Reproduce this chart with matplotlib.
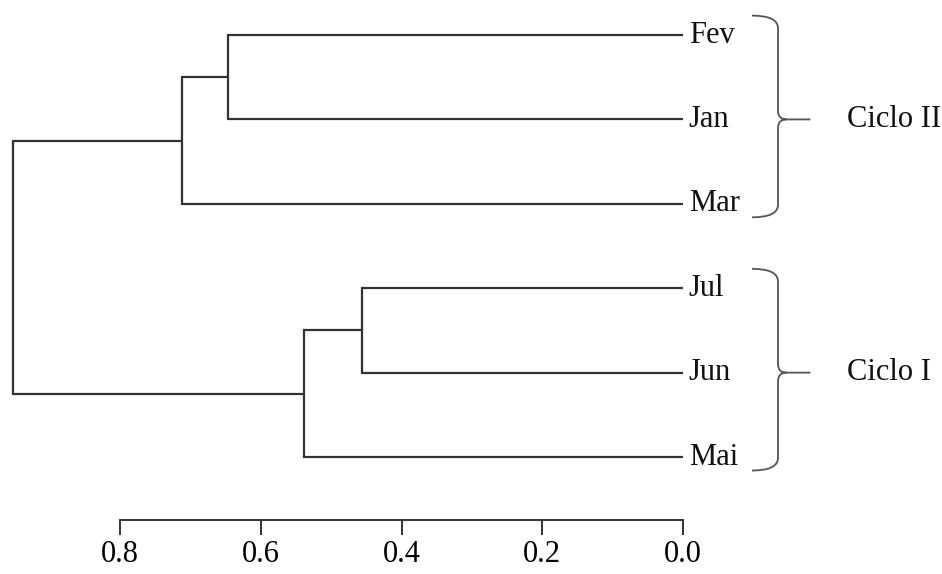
import matplotlib
matplotlib.use('Agg')
import matplotlib.pyplot as plt
from matplotlib.path import Path
from matplotlib.patches import PathPatch

# leaves, top to bottom
leaves = ['Fev', 'Jan', 'Mar', 'Jul', 'Jun', 'Mai']
# merges: (child_a, child_b, height) ; children are leaf names or merge ids 'n0', 'n1', ...
merges = [
    ('Fev', 'Jan', 0.647),
    ('n0', 'Mar', 0.712),
    ('Jul', 'Jun', 0.456),
    ('n2', 'Mai', 0.539),
    ('n1', 'n3', 0.952),
]
groups = ['Ciclo II', 'Ciclo I']
group_members = [['Fev', 'Jan', 'Mar'], ['Jul', 'Jun', 'Mai']]
ticks = [0.8, 0.6, 0.4, 0.2, 0.0]

line_col = '#333333'
plt.rcParams['font.family'] = ['Liberation Serif', 'DejaVu Serif']

fig = plt.figure(figsize=(9.42, 5.74), dpi=100)
ax = fig.add_axes([0, 0, 1, 1])

# node positions: (y, height)
pos = {name: (i, 0.0) for i, name in enumerate(leaves)}
for k, (a, b, h) in enumerate(merges):
    ya, ha = pos[a]
    yb, hb = pos[b]
    ax.plot([ha, h, h, hb], [ya, ya, yb, yb], color=line_col, lw=1.6,
            solid_joinstyle='miter', solid_capstyle='butt')
    pos['n%d' % k] = ((ya + yb) / 2, h)

for i, name in enumerate(leaves):
    ax.text(-0.008, i, name, ha='left', va='center', fontsize=22, color='#111111')


def brace(ax, top, bot, mid, x0=-0.098, xv=-0.135, xt=-0.181):
    r = 0.15
    verts = [(x0, top), (xv, top), (xv, top + r),
             (xv, mid - 0.1), (xv, mid), (xv - 0.012, mid),
             (xt, mid),
             (xv - 0.012, mid), (xv, mid), (xv, mid + 0.1),
             (xv, bot - r), (xv, bot), (x0, bot)]
    codes = [Path.MOVETO, Path.CURVE3, Path.CURVE3,
             Path.LINETO, Path.CURVE3, Path.CURVE3,
             Path.LINETO,
             Path.MOVETO, Path.CURVE3, Path.CURVE3,
             Path.LINETO, Path.CURVE3, Path.CURVE3]
    ax.add_patch(PathPatch(Path(verts, codes), fill=False, color='#555555', lw=1.3))


for g, members in zip(groups, group_members):
    idx = [leaves.index(m) for m in members]
    mid = (min(idx) + max(idx)) / 2
    brace(ax, min(idx) - 0.23, max(idx) + 0.16, mid)
    ax.text(-0.233, mid, g, ha='left', va='center', fontsize=22, color='#111111')

# axis
ax.set_xlim(0.9705, -0.368)
ax.set_ylim(6.386, -0.415)
for s in ['top', 'left', 'right']:
    ax.spines[s].set_visible(False)
ax.spines['bottom'].set_position(('data', 5.75))
ax.spines['bottom'].set_bounds(0, 0.8)
ax.spines['bottom'].set_color(line_col)
ax.spines['bottom'].set_linewidth(1.4)
ax.set_xticks(ticks)
ax.set_xticklabels(['%.1f' % t for t in ticks], fontsize=22)
ax.tick_params(axis='x', direction='out', length=11, width=1.4, color=line_col, pad=3)
ax.set_yticks([])
ax.patch.set_visible(False)

fig.savefig('out.png', dpi=100)
